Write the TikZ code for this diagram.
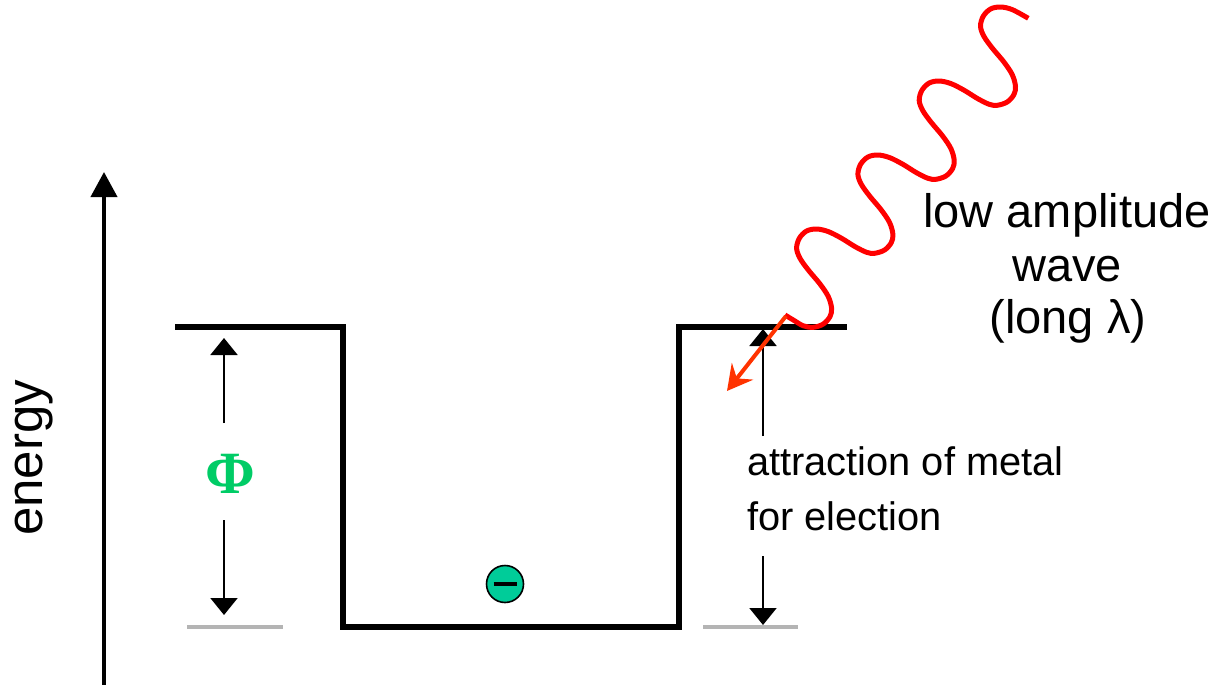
\documentclass[tikz,border=0pt]{standalone}
\usepackage{fontspec}
\setmainfont{Liberation Sans}
\newfontfamily\phifont{Liberation Serif}
\usetikzlibrary{arrows.meta}
\definecolor{phigreen}{RGB}{0,204,102}
\definecolor{elecgreen}{RGB}{0,204,153}
\definecolor{wavered}{RGB}{255,0,0}
\definecolor{arroworange}{RGB}{255,51,0}
\definecolor{levelgrey}{RGB}{180,180,180}
\tikzset{
  well/.style={line width=6pt, line join=miter, black},
  level/.style={line width=3.3pt, levelgrey},
  dimarrow/.style={line width=2pt, -{Triangle[length=17pt,width=27pt]}},
  axisarrow/.style={line width=4pt, -{Triangle[length=25pt,width=26pt]}},
  wavestyle/.style={line width=5pt, wavered, line join=round},
  photonarrow/.style={line width=4pt, arroworange, -{Stealth[length=25pt,width=27pt,inset=9pt]}},
  bigtext/.style={font=\fontsize{47}{53}\selectfont, inner sep=0pt, anchor=base},
  smalltext/.style={font=\fontsize{39.8}{46}\selectfont, inner sep=0pt, anchor=base west},
}
\begin{document}
\begin{tikzpicture}[x=1pt,y=-1pt]
\useasboundingbox (0,0) rectangle (1224,685);
% energy axis
\coordinate (axbot) at (104,690);
\coordinate (axtop) at (104,172);
\draw[axisarrow] (axbot) -- (axtop);
\node[rotate=90, font=\fontsize{51}{56}\selectfont, inner sep=0pt] (energy) at (34,458) {energy};
% potential well
\coordinate (w1) at (175,326.7);
\coordinate (w2) at (343,326.7);
\coordinate (w3) at (343,626.7);
\coordinate (w4) at (679,626.7);
\coordinate (w5) at (679,326.7);
\coordinate (w6) at (847,326.7);
\draw[well] (w1) -- (w2) -- (w3) -- (w4) -- (w5) -- (w6);
% grey reference levels
\coordinate (gl1) at (187,627);
\coordinate (gl2) at (283,627);
\coordinate (gr1) at (703,627);
\coordinate (gr2) at (798,627);
\draw[level] (gl1) -- (gl2);
\draw[level] (gr1) -- (gr2);
% work function arrows
\node[font=\phifont\bfseries\fontsize{60}{64}\selectfont, text=phigreen, inner sep=0pt] (phi) at (230,474) {Φ};
\coordinate (pa1) at (224,423);
\coordinate (pa2) at (224,338);
\coordinate (pb1) at (224,520);
\coordinate (pb2) at (224,615);
\draw[dimarrow] (pa1) -- (pa2);
\draw[dimarrow] (pb1) -- (pb2);
% attraction arrows
\coordinate (ra1) at (763,436);
\coordinate (ra2) at (763,329);
\coordinate (rb1) at (763,556);
\coordinate (rb2) at (763,625);
\draw[dimarrow] (ra1) -- (ra2);
\draw[dimarrow] (rb1) -- (rb2);
\node[smalltext] (attr1) at (747,475) {attraction of metal};
\node[smalltext] (attr2) at (747,530) {for election};
% electron
\node[circle, draw=black, line width=1.6pt, fill=elecgreen, minimum size=37pt, inner sep=0pt] (elec) at (505,584) {};
\draw[line width=4pt] ([xshift=-11.5pt]elec.center) -- ([xshift=11.5pt]elec.center);
% wave
\draw[wavestyle] plot[smooth, tension=0.55] coordinates {
(785,315) (793.3,320) (803.3,325.8)
(813.3,327.3) (823.3,324) (830,316.6) (831.6,308.3) (828.3,296.6) (820,284) (808.3,270) (800,258.3) (796.6,248.3) (799.3,238.3) (806.6,231) (816.6,229) (828.3,231.6) (841.6,238.3) (855,246.6) (866.6,252.3)
(874.6,253.3) (884.6,250) (891.3,242.6) (892.9,234.3) (889.6,222.6) (881.3,210) (869.6,196) (861.3,184.3) (857.9,174.3) (860.6,164.3) (867.9,157) (877.9,155) (889.6,157.6) (902.9,164.3) (916.3,172.6) (927.9,178.3)
(935.9,179.3) (945.9,176) (952.6,168.6) (954.2,160.3) (950.9,148.6) (942.6,136) (930.9,122) (922.6,110.3) (919.2,100.3) (921.9,90.3) (929.2,83) (939.2,81) (950.9,83.6) (964.2,90.3) (977.6,98.6) (989.2,104.3)
(997.2,105.3) (1007.2,102) (1013.9,94.6) (1015.5,86.3) (1012.2,74.6) (1003.9,62) (992.2,48) (983.9,36.3) (980.5,26.3) (983.2,16.3) (990.5,9) (1000.5,7) (1012.2,9.6) (1028.3,18.3)
};
% photon arrow
\coordinate (ph1) at (786,316);
\coordinate (ph2) at (727,391);
\draw[photonarrow] (ph1) -- (ph2);
% wave label
\node[bigtext] (wl1) at (1067,227) {low amplitude};
\node[bigtext] (wl2) at (1067,281.7) {wave};
\node[bigtext] (wl3) at (1068,333.3) {(long λ)};
\end{tikzpicture}
\end{document}
